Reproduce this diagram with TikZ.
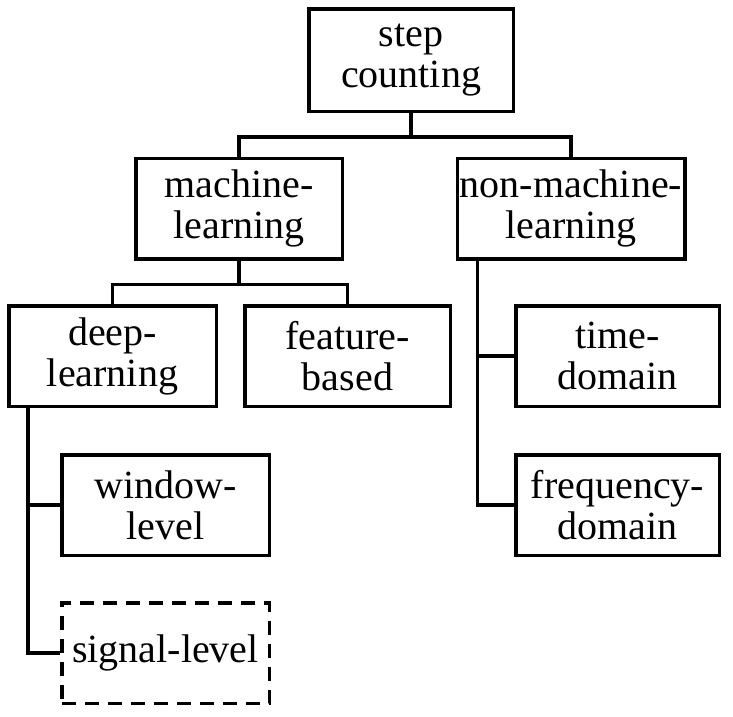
\documentclass[tikz,border=0pt]{standalone}
\usepackage{fontspec}
\newfontfamily\tnr{LiberationSerif}[Extension=.ttf, UprightFont=*-Regular]
\usetikzlibrary{calc}
\begin{document}
\begin{tikzpicture}[x=1pt,y=-1pt,
  box/.style={draw, rectangle, inner sep=0pt, minimum width=206.5pt, minimum height=100.5pt,
    align=center, font=\tnr\fontsize{40}{41}\selectfont, line width=3.5pt},
  dashbox/.style={box, dash pattern=on 14pt off 9pt},
  conn/.style={line width=3.5pt}]
\useasboundingbox (0,0) rectangle (733,716);
\node[box, minimum width=204.5pt, minimum height=102.5pt] (step) at (411,60) {step\\counting};
\node[box] (ml) at (239,208.5) {machine-\\learning};
\node[box, minimum width=227.5pt] (nml) at (571,208.5) {non-machine-\\learning};
\node[box, minimum width=207.5pt] (deep) at (112.5,356) {deep-\\learning};
\node[box, minimum width=205.5pt] (feat) at (347.5,356) {feature-\\based};
\node[box, minimum width=203.5pt] (time) at (617.5,356) {time-\\domain};
\node[box, minimum width=203.5pt] (freq) at (617.5,505) {frequency-\\domain};
\node[box, minimum width=207.5pt] (win) at (165.5,505) {window-\\level};
\node[dashbox, minimum width=207.5pt] (sig) at (165.5,653) {signal-level};
% connectors
\draw[conn] (step.south) -- ++(0,24) coordinate (j1);
\draw[conn] (ml.north) |- (j1) -| (nml.north);
\draw[conn] (ml.south) -- ++(0,24) coordinate (j2);
\draw[conn] (deep.north) |- (j2) -| (feat.north);
\coordinate (v1) at ($(nml.south west)+(22,0)$);
\draw[conn] (v1) |- (freq.west);
\draw[conn] (v1 |- time.west) -- (time.west);
\coordinate (v2) at ($(deep.south west)+(21,0)$);
\draw[conn] (v2) |- (sig.west);
\draw[conn] (v2 |- win.west) -- (win.west);
\end{tikzpicture}
\end{document}
